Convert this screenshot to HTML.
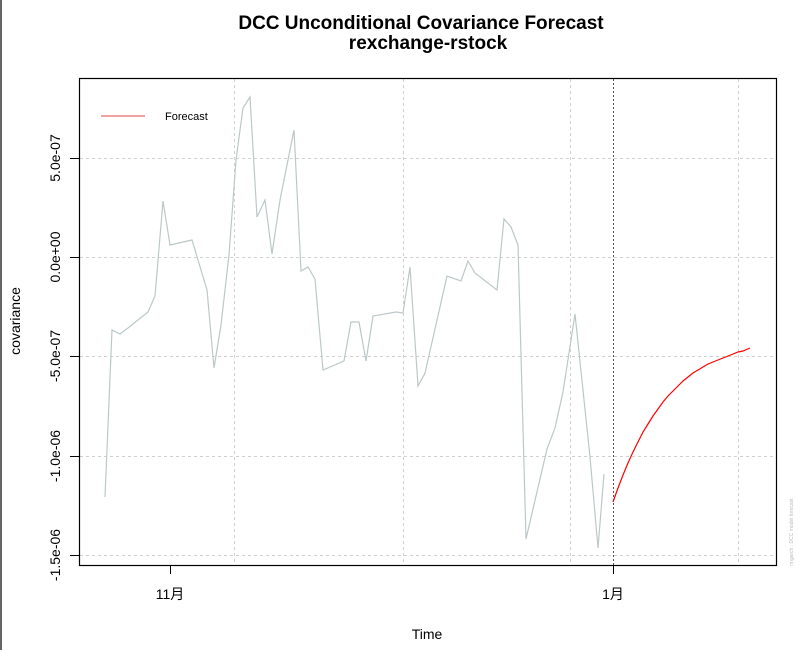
<!DOCTYPE html>
<html><head><meta charset="utf-8"><style>
body{margin:0;background:#fff}
svg{display:block;font-family:"Liberation Sans","Noto Sans CJK SC",sans-serif}
</style></head><body>
<svg width="808" height="650" xmlns="http://www.w3.org/2000/svg">
<rect width="808" height="650" fill="#fff"/>
<rect x="0" y="0" width="2" height="650" fill="#666"/>
<g stroke="#d0d0d0" stroke-dasharray="3,3" stroke-width="1">
<line x1="80" x2="776" y1="158.5" y2="158.5"/>
<line x1="80" x2="776" y1="257.5" y2="257.5"/>
<line x1="80" x2="776" y1="356.5" y2="356.5"/>
<line x1="80" x2="776" y1="456.5" y2="456.5"/>
<line x1="80" x2="776" y1="555.5" y2="555.5"/>
<line x1="234.5" x2="234.5" y1="79" y2="565"/>
<line x1="403.5" x2="403.5" y1="79" y2="565"/>
<line x1="570.5" x2="570.5" y1="79" y2="565"/>
<line x1="738.5" x2="738.5" y1="79" y2="565"/>
</g>
<line x1="613.5" x2="613.5" y1="79" y2="565" stroke="#555" stroke-dasharray="2,2"/>
<polyline fill="none" stroke="#bcc8c8" stroke-width="1.2" points="105,497 112,330 120,334 128,328 148,312 155,296 163,201 170,245 192,240 207,290 214,368 221,325 229,255 236,160 243,108 250,97 257,217 265,200 272,254 280,200 294,130 301,271 308,267 315,279 323,370 344,361 351,322 359,322 366,361 373,316 396,312 403,313 410,267 418,386 425,373 447,276 461,281 468,261 475,273 497,290 504,219 511,227 518,245 526,539 547,449 555,428 563,392 575,314 590,457 598,548 604,474"/>
<polyline fill="none" stroke="#ff0000" stroke-width="1.2" points="613,502 618,488 623,475 628,463 633,452 638,442 643,432 648,424 653,416 658,409 663,402 668,396 673,391 678,386 683,381 688,377 693,373 698,370 703,367 708,364 713,362 718,360 723,358 728,356 733,354 738,352 743,351 750,348"/>
<rect x="79.5" y="78.5" width="697" height="487" fill="none" stroke="#000" stroke-width="1.2"/>
<g stroke="#000">
<line x1="70" x2="79" y1="158.5" y2="158.5"/>
<line x1="70" x2="79" y1="257.5" y2="257.5"/>
<line x1="70" x2="79" y1="356.5" y2="356.5"/>
<line x1="70" x2="79" y1="456.5" y2="456.5"/>
<line x1="70" x2="79" y1="555.5" y2="555.5"/>
<line x1="170.5" x2="170.5" y1="566" y2="574"/>
<line x1="613.5" x2="613.5" y1="566" y2="574"/>
</g>
<g font-size="14" text-anchor="middle" fill="#000">
<text transform="translate(60,158) rotate(-90)">5.0e-07</text>
<text transform="translate(60,257) rotate(-90)">0.0e+00</text>
<text transform="translate(60,356) rotate(-90)">-5.0e-07</text>
<text transform="translate(60,456) rotate(-90)">-1.0e-06</text>
<text transform="translate(60,555) rotate(-90)">-1.5e-06</text>
<text x="170" y="599">11月</text>
<text x="613" y="599">1月</text>
<text x="427" y="639">Time</text>
<text transform="translate(20,321) rotate(-90)">covariance</text>
</g>
<g font-size="19" font-weight="bold" text-anchor="middle">
<text x="421" y="29">DCC Unconditional Covariance Forecast</text>
<text x="428" y="49">rexchange-rstock</text>
</g>
<line x1="101" x2="145" y1="116" y2="116" stroke="#d44" stroke-width="1"/>
<text x="165" y="120" font-size="11">Forecast</text>
<text transform="translate(793,566) rotate(-90)" font-size="5" fill="#bbb">rmgarch  :  DCC model forecast</text>
</svg>
</body></html>
